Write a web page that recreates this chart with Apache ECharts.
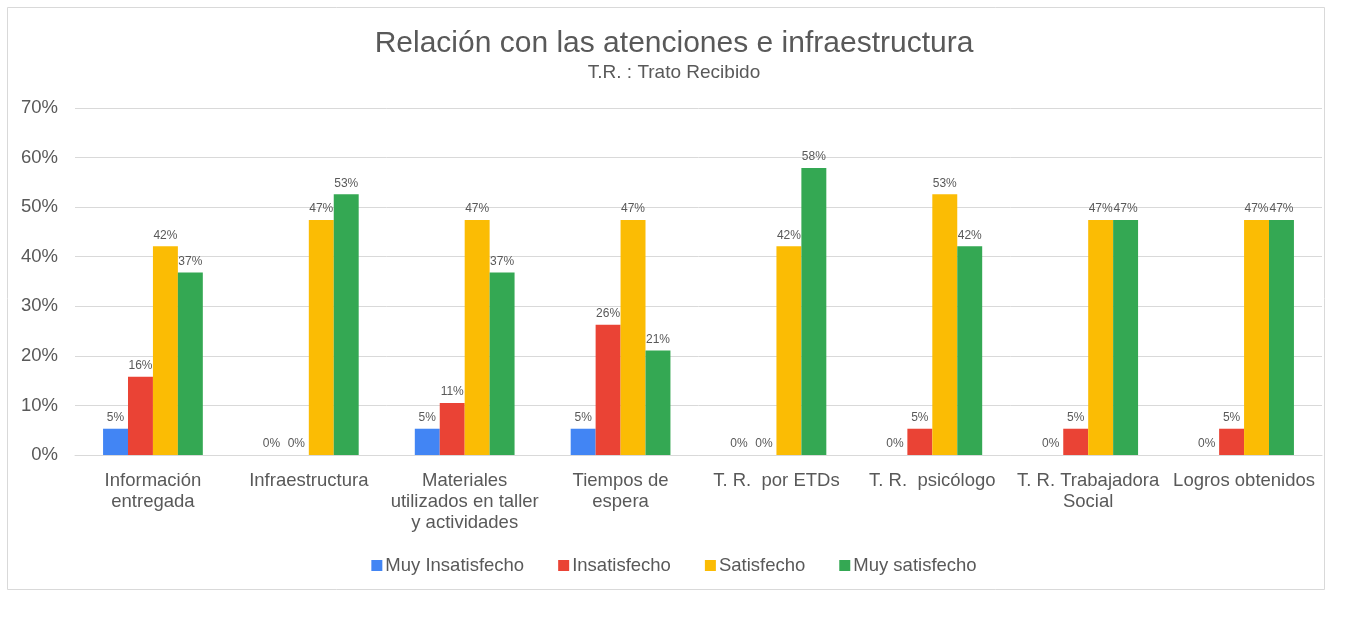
<!DOCTYPE html>
<html>
<head>
<meta charset="utf-8">
<script src="https://cdn.jsdelivr.net/npm/echarts@6/dist/echarts.min.js"></script>
<style>
  html, body { margin: 0; padding: 0; background: #fff; }
  #chart { width: 1348px; height: 621px; }
</style>
</head>
<body>
<div id="chart"></div>
<script>
var categories = [
  'Información\nentregada',
  'Infraestructura',
  'Materiales\nutilizados en taller\ny actividades',
  'Tiempos de\nespera',
  'T. R.  por ETDs',
  'T. R.  psicólogo',
  'T. R. Trabajadora\nSocial',
  'Logros obtenidos'
];
var muyInsatisfecho = [5.3, 0, 5.3, 5.3, 0, 0, 0, 0];
var insatisfecho    = [15.8, 0, 10.5, 26.3, 0, 5.3, 5.3, 5.3];
var satisfecho      = [42.1, 47.4, 47.4, 47.4, 42.1, 52.6, 47.4, 47.4];
var muySatisfecho   = [36.8, 52.6, 36.8, 21.1, 57.9, 42.1, 47.4, 47.4];

var txt = '#595959';
var font = 'Liberation Sans, Arial, sans-serif';

function serie(name, data, color) {
  return {
    name: name,
    type: 'bar',
    data: data,
    itemStyle: { color: color },
    barGap: '0%',
    barCategoryGap: '36%',
    label: {
      show: true,
      position: 'top',
      distance: 5,
      color: txt,
      fontSize: 12,
      fontFamily: font,
      formatter: function (p) { return Math.round(p.value) + '%'; }
    }
  };
}

var chart = echarts.init(document.getElementById('chart'));
chart.setOption({
  backgroundColor: '#fff',
  animation: false,
  textStyle: { fontFamily: font },
  title: {
    text: 'Relación con las atenciones e infraestructura',
    subtext: 'T.R. : Trato Recibido',
    left: 'center',
    top: 24,
    itemGap: 4,
    textStyle: { color: txt, fontSize: 30, fontWeight: 'normal', fontFamily: font },
    subtextStyle: { color: txt, fontSize: 19, fontFamily: font }
  },
  graphic: [{
    type: 'rect',
    shape: { x: 7.5, y: 7.5, width: 1317, height: 582 },
    style: { fill: 'none', stroke: '#d9d9d9', lineWidth: 1 },
    silent: true
  }],
  legend: {
    bottom: 41,
    left: 'center',
    itemWidth: 11,
    itemHeight: 11,
    itemGap: 34,
    icon: 'rect',
    textStyle: { color: txt, fontSize: 18.5, fontFamily: font, padding: [0, 0, 0, -2] },
    data: ['Muy Insatisfecho', 'Insatisfecho', 'Satisfecho', 'Muy satisfecho']
  },
  grid: { left: 75, right: 26, top: 108, bottom: 166, containLabel: false },
  xAxis: {
    type: 'category',
    data: categories,
    axisLine: { lineStyle: { color: '#d9d9d9' } },
    axisTick: { show: false },
    axisLabel: {
      interval: 0,
      color: txt,
      fontSize: 18.5,
      lineHeight: 21,
      margin: 15,
      fontFamily: font
    }
  },
  yAxis: {
    type: 'value',
    min: 0,
    max: 70,
    interval: 10,
    axisLine: { show: false },
    axisTick: { show: false },
    splitLine: { lineStyle: { color: '#d9d9d9' } },
    axisLabel: { formatter: '{value}%', color: txt, fontSize: 18.5, margin: 17, fontFamily: font }
  },
  series: [
    serie('Muy Insatisfecho', muyInsatisfecho, '#4285F4'),
    serie('Insatisfecho', insatisfecho, '#EA4335'),
    serie('Satisfecho', satisfecho, '#FBBC04'),
    serie('Muy satisfecho', muySatisfecho, '#34A853')
  ]
});
</script>
</body>
</html>
